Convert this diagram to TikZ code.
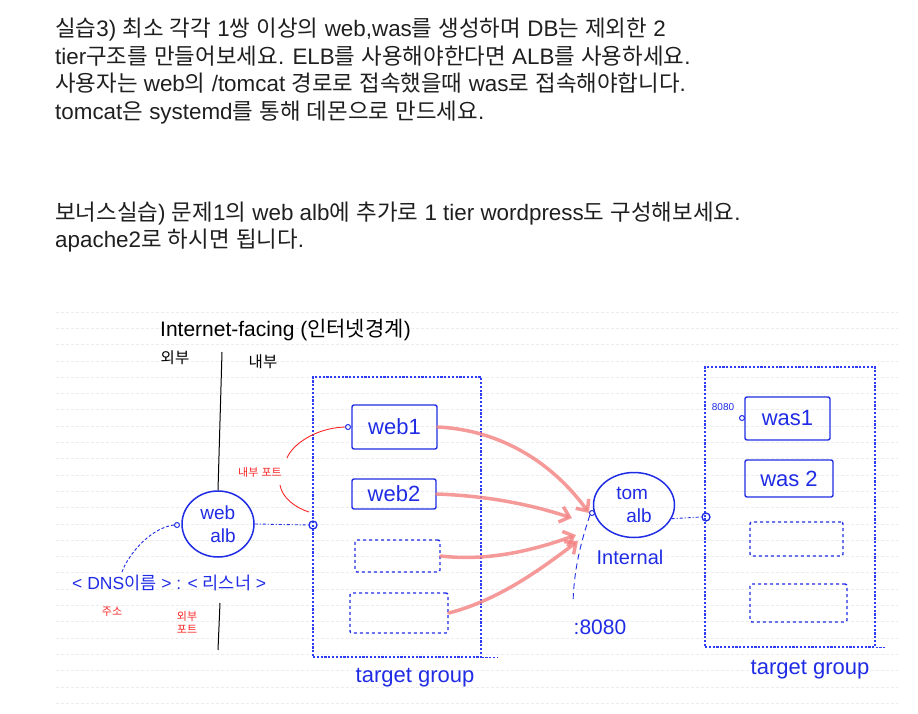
\documentclass[tikz,border=0pt]{standalone}
\usepackage{fontspec}
\setmainfont{Liberation Sans}
\newfontfamily\krfont{Noto Sans CJK KR}
% Hangul switches to the Korean font by itself
\XeTeXinterchartokenstate=1
\newXeTeXintercharclass\hangulclass
\newcount\hcnt
\hcnt="AC00
\loop\XeTeXcharclass\hcnt=\hangulclass\ifnum\hcnt<"D7A3 \advance\hcnt by 1 \repeat
\XeTeXinterchartoks 0 \hangulclass = {\krfont}
\XeTeXinterchartoks 4095 \hangulclass = {\krfont}
\XeTeXinterchartoks \hangulclass 0 = {\rmfamily}
\XeTeXinterchartoks \hangulclass 4095 = {\rmfamily}
\usetikzlibrary{shapes.geometric, arrows.meta, positioning}
\definecolor{penblue}{RGB}{32,44,228}
\definecolor{boxblue}{RGB}{45,60,245}
\definecolor{penred}{RGB}{250,38,38}
\definecolor{flowred}{RGB}{242,128,128}
\definecolor{ruleline}{RGB}{236,236,236}

\begin{document}
\begin{tikzpicture}[
        x=1pt, y=-1pt,
        prose/.style={anchor=base west, inner sep=0pt, text=black!88, font=\fontsize{22.4}{26}\selectfont},
        hand/.style={inner sep=0pt, text=penblue, font=\fontsize{22}{24}\selectfont},
        ink/.style={inner sep=0pt, text=black, font=\fontsize{15.5}{17}\selectfont},
        note/.style={inner sep=0pt, text=penred, align=center, font=\fontsize{11}{13}\selectfont},
        server/.style={draw=penblue, line width=1.4pt, rounded corners=2pt, inner sep=0pt, text=penblue, font=\fontsize{22}{24}\selectfont},
        spare/.style={server, dashed},
        tgroup/.style={draw=boxblue, line width=1.1pt, dash pattern=on 2.2pt off 1.6pt, inner sep=0pt},
        alb/.style={ellipse, draw=penblue, line width=1.5pt, inner sep=0pt, align=left, text=penblue, font=\fontsize{19}{23}\selectfont},
        port/.style={circle, draw=penblue, line width=1.3pt, inner sep=0pt, minimum size=8pt},
        pin/.style={circle, draw=penblue, line width=1pt, inner sep=0pt, minimum size=5pt},
        blueline/.style={draw=penblue, line width=0.9pt},
        redline/.style={draw=penred, line width=0.9pt},
        flow/.style={draw=flowred, line width=3.5pt, opacity=0.8, line cap=round, -{Straight Barb[length=9pt, width=16pt]}},
    ]
    \useasboundingbox (0,0) rectangle (918,714);

    % ruled notebook lines
    \foreach \r in {0,...,24} {
        \draw[ruleline, line width=0.7pt, dash pattern=on 3pt off 2pt] (56, 312+\r*16.3) -- (898, 312+\r*16.3);
    }

    % task text
    \node[prose] (task1) at (55,37) {실습3) 최소 각각 1쌍 이상의 web,was를 생성하며 DB는 제외한 2};
    \node[prose] (task2) at (55,64.5) {tier구조를 만들어보세요. ELB를 사용해야한다면 ALB를 사용하세요.};
    \node[prose] (task3) at (55,92) {사용자는 web의 /tomcat 경로로 접속했을때 was로 접속해야합니다.};
    \node[prose] (task4) at (55,119.5) {tomcat은 systemd를 통해 데몬으로 만드세요.};
    \node[prose] (bonus1) at (55,220) {보너스실습) 문제1의 web alb에 추가로 1 tier wordpress도 구성해보세요.};
    \node[prose] (bonus2) at (55,247.5) {apache2로 하시면 됩니다.};

    % boundary
    \node[ink, anchor=west, font=\fontsize{21}{23}\selectfont] (facing) at (160,330) {Internet-facing (인터넷경계)};
    \node[ink] (outside) at (175,358) {외부};
    \node[ink] (inside) at (263,362) {내부};

    % web side
    \node[alb, minimum width=72pt, minimum height=66pt] (webalb) at (218,524) {web\\\hspace*{10pt}alb};
    \node[pin] (dnsport) at (177,525) {};
    \node[tgroup, minimum width=168pt, minimum height=280pt] (webtg) at (397,517) {};
    \node[port] (webtgport) at (313,525) {};
    \node[server, minimum width=85pt, minimum height=44pt] (web1) at (394.5,427) {web1};
    \node[pin] (web1port) at (348,427) {};
    \node[server, minimum width=84pt, minimum height=30pt] (web2) at (394,494) {web2};
    \node[spare, minimum width=85pt, minimum height=32pt] (web3) at (397.5,556) {};
    \node[spare, minimum width=98pt, minimum height=40pt] (web4) at (399,613) {};
    \node[hand] (webtglabel) at (415,678) {target group};

    \node[hand, anchor=west, font=\fontsize{17.5}{20}\selectfont] (listener) at (72,583) {< DNS이름 > : < 리스너 >};
    \node[note] (addr) at (112,612) {주소};
    \node[note] (outport) at (187,622) {외부\\포트};
    \node[note] (inport) at (260,472) {내부 포트};

    % was side
    \node[alb, minimum width=81pt, minimum height=65pt] (tomalb) at (634,505) {tom\\\hspace*{10pt}alb};
    \node[pin] (tomport) at (592,513) {};
    \node[hand, font=\fontsize{20}{22}\selectfont] (internal) at (630,557) {Internal};
    \node[hand, font=\fontsize{21}{23}\selectfont] (p8080) at (600,627) {:8080};
    \node[tgroup, minimum width=170pt, minimum height=280pt] (wastg) at (790,507) {};
    \node[port] (wastgport) at (706,517) {};
    \node[server, minimum width=85pt, minimum height=43pt] (was1) at (787.5,418.5) {was1};
    \node[pin] (was1port) at (742,418) {};
    \node[hand, font=\fontsize{10}{12}\selectfont] (was1num) at (723,407) {8080};
    \node[server, minimum width=88pt, minimum height=37pt] (was2) at (789,478.5) {was 2};
    \node[spare, minimum width=93pt, minimum height=34pt] (was3) at (796.5,539) {};
    \node[spare, minimum width=97pt, minimum height=38pt] (was4) at (798.5,603) {};
    \node[hand] (wastglabel) at (810,670) {target group};

    % free ends
    \coordinate (edgetop) at (222,352);
    \coordinate (edgebot) at (220,603);
    \coordinate (edgeend) at (218,650);
    \coordinate (dnsend) at (122,572);
    \coordinate (innerA) at (287,458);
    \coordinate (innerB) at (280,485);
    \coordinate (innerC) at (309,512);
    \coordinate (p8080top) at (573,603);
    \coordinate (tomin2) at (572,518);
    \coordinate (tomin3) at (576,535);
    \coordinate (tomin4) at (578,541);

    % connectors
    \draw[line width=1pt] (edgetop) -- (webalb.north);
    \draw[line width=1pt] (edgebot) -- (edgeend);
    \draw[tgroup] (webtg.south east) -- +(16,0);
    \draw[tgroup] (wastg.south east) -- +(10,0);
    \draw[blueline, densely dashed] (dnsport.west) .. controls (150,528) and (128,555) .. (dnsend);
    \draw[blueline, dash pattern=on 3pt off 2pt on 1pt off 2pt] (webalb.east) -- (webtgport.west);
    \draw[blueline, dash pattern=on 3pt off 2pt on 1pt off 2pt] (tomalb.-20) -- (wastgport.west);
    \draw[blueline, dash pattern=on 6pt off 4pt] (tomport.south west) .. controls (580,545) and (574,570) .. (p8080top);
    \draw[redline] (web1port.west) .. controls (315,428) and (292,445) .. (innerA);
    \draw[redline] (innerB) .. controls (282,498) and (296,508) .. (innerC);

    \draw[flow] (web1.east) .. controls (500,430) and (552,462) .. (tomport.west);
    \draw[flow] (web2.east) .. controls (490,496) and (532,505) .. (tomin2);
    \draw[flow] (web3.east) .. controls (492,562) and (540,548) .. (tomin3);
    \draw[flow] (web4.east) .. controls (500,600) and (545,566) .. (tomin4);

\end{tikzpicture}
\end{document}
